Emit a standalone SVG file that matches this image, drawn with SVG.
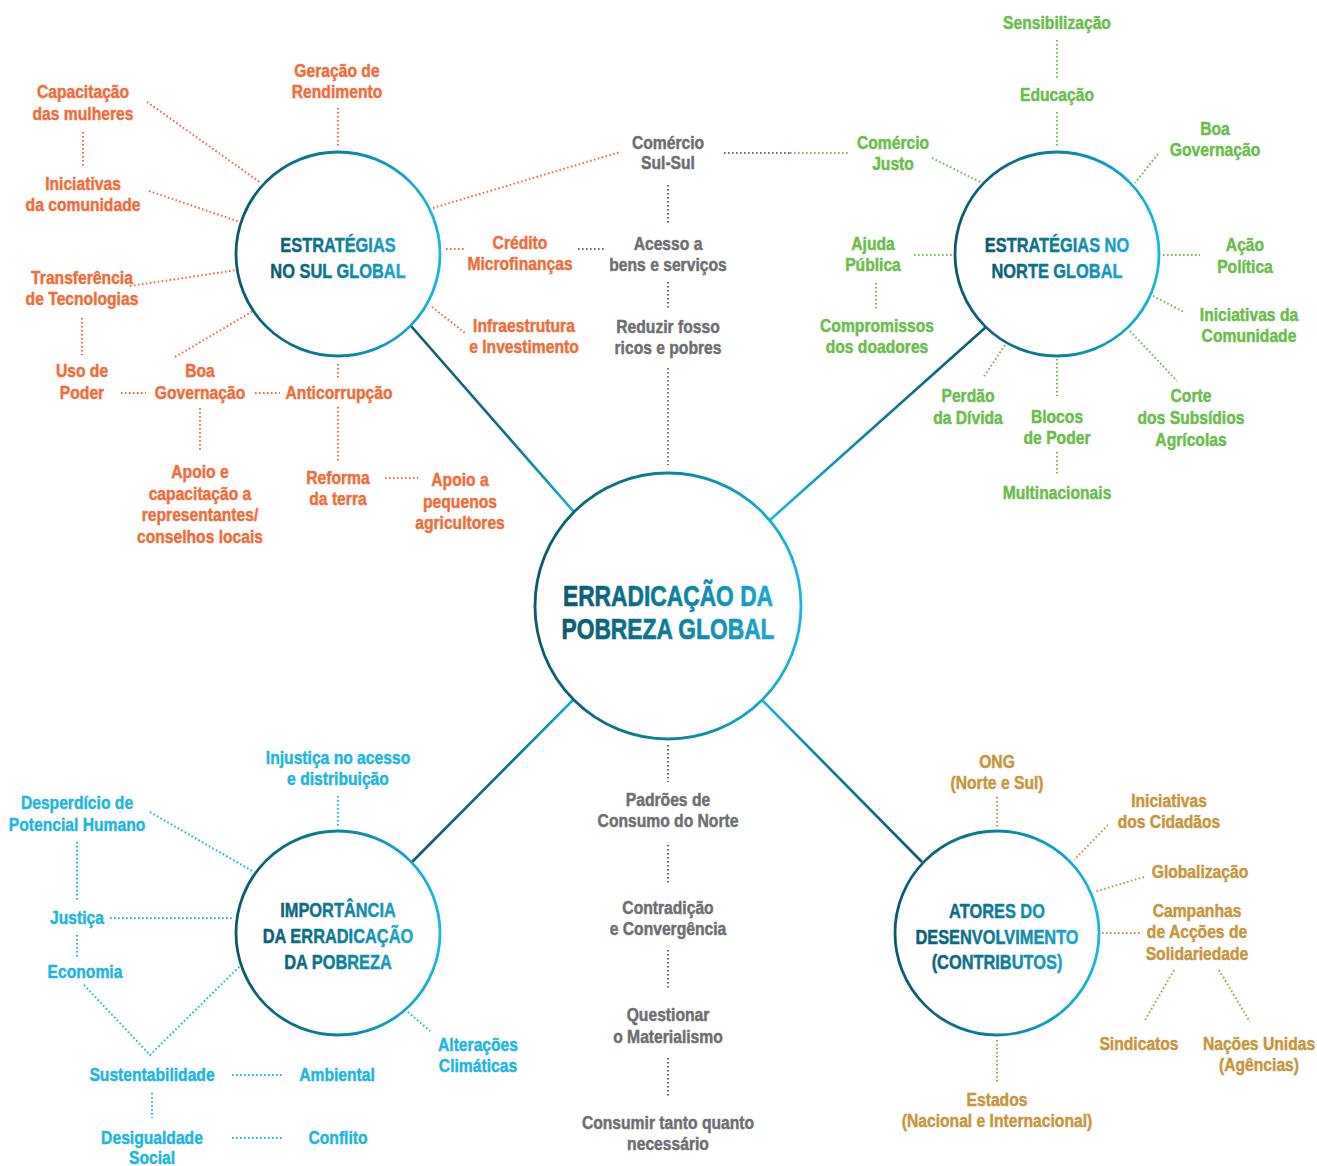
<svg xmlns="http://www.w3.org/2000/svg" width="1317" height="1166" viewBox="0 0 1317 1166">
<defs>
  <linearGradient id="ring" x1="0" y1="0" x2="1" y2="0">
    <stop offset="0" stop-color="#0a586c"/>
    <stop offset="0.55" stop-color="#0b86a3"/>
    <stop offset="1" stop-color="#19b7e0"/>
  </linearGradient>
  <linearGradient id="ink" x1="0" y1="0" x2="1" y2="0">
    <stop offset="0" stop-color="#0a5a6e"/>
    <stop offset="0.5" stop-color="#0b7d98"/>
    <stop offset="1" stop-color="#1aa9d2"/>
  </linearGradient>
  <linearGradient id="spokeNW" gradientUnits="userSpaceOnUse" x1="411" y1="326" x2="574" y2="512">
    <stop offset="0" stop-color="#0b5a6e"/>
    <stop offset="0.6" stop-color="#0c6f87"/>
    <stop offset="1" stop-color="#18b4dc"/>
  </linearGradient>
  <linearGradient id="spokeNE" gradientUnits="userSpaceOnUse" x1="986" y1="327" x2="770" y2="520">
    <stop offset="0" stop-color="#0b5a6e"/>
    <stop offset="0.5" stop-color="#0c7a94"/>
    <stop offset="1" stop-color="#19b6de"/>
  </linearGradient>
  <linearGradient id="spokeSW" gradientUnits="userSpaceOnUse" x1="412" y1="862" x2="573" y2="700">
    <stop offset="0" stop-color="#0b5a6e"/>
    <stop offset="0.6" stop-color="#0c7088"/>
    <stop offset="1" stop-color="#17addb"/>
  </linearGradient>
  <linearGradient id="spokeSE" gradientUnits="userSpaceOnUse" x1="922" y1="862" x2="762" y2="700">
    <stop offset="0" stop-color="#0b5a6e"/>
    <stop offset="0.6" stop-color="#0c7d97"/>
    <stop offset="1" stop-color="#18b4dc"/>
  </linearGradient>
  <style>
    text{font-family:"Liberation Sans",Arial,sans-serif;font-weight:700;text-anchor:middle;stroke-width:0.45;stroke-linejoin:round}
    .lab{font-size:18px}
    .ttl{font-size:20px;fill:url(#ink);stroke:url(#ink)}
    .big{font-size:30px;fill:url(#ink);stroke:url(#ink);stroke-width:0.7}
    .o{fill:#f26c3b;stroke:#f26c3b}
    .g{fill:#6abd4a;stroke:#6abd4a}
    .c{fill:#1db6e0;stroke:#1db6e0}
    .y{fill:#c6963a;stroke:#c6963a}
    .k{fill:#6d6e71;stroke:#6d6e71}
    .ring{fill:#fff;stroke:url(#ring);stroke-width:2.8}
    .dot{fill:none;stroke-width:2;stroke-dasharray:1.6 2.4}
    .so{stroke:#f26c3b}
    .sg{stroke:#6abd4a}
    .sc{stroke:#1db6e0}
    .sy{stroke:#c6963a}
    .sk{stroke:#6d6e71}
  </style>
</defs>
<rect width="1317" height="1166" fill="#fff"/>

<!-- connectors -->
<g id="connectors">
  <!-- solid spokes from the hub -->
  <line x1="411" y1="326" x2="574" y2="512" stroke="url(#spokeNW)" stroke-width="2.6"/>
  <line x1="986" y1="327" x2="770" y2="520" stroke="url(#spokeNE)" stroke-width="2.6"/>
  <line x1="412" y1="862" x2="573" y2="700" stroke="url(#spokeSW)" stroke-width="2.6"/>
  <line x1="922" y1="862" x2="762" y2="700" stroke="url(#spokeSE)" stroke-width="2.6"/>

  <!-- south strategies (orange) -->
  <g class="dot so">
    <line x1="338" y1="108" x2="338" y2="148"/>
    <line x1="83" y1="132" x2="83" y2="166"/>
    <line x1="147" y1="102" x2="261" y2="183"/>
    <line x1="149" y1="191" x2="240" y2="222"/>
    <line x1="130" y1="286" x2="237" y2="270"/>
    <line x1="82" y1="318" x2="82" y2="355"/>
    <line x1="121" y1="393" x2="146" y2="393"/>
    <line x1="255" y1="393" x2="280" y2="393"/>
    <line x1="175" y1="357" x2="253" y2="311"/>
    <line x1="338" y1="364" x2="338" y2="380"/>
    <line x1="338" y1="407" x2="338" y2="462"/>
    <line x1="385" y1="478" x2="418" y2="478"/>
    <line x1="200" y1="408" x2="200" y2="450"/>
    <line x1="446" y1="249" x2="466" y2="249"/>
    <line x1="432" y1="307" x2="465" y2="333"/>
    <line x1="433" y1="208" x2="620" y2="152"/>
  </g>

  <!-- central column (grey) -->
  <g class="dot sk">
    <line x1="578" y1="249" x2="605" y2="249"/>
    <line x1="724" y1="153" x2="790" y2="153"/>
    <line x1="668" y1="185" x2="668" y2="225"/>
    <line x1="668" y1="282" x2="668" y2="308"/>
    <line x1="668" y1="368" x2="668" y2="465"/>
    <line x1="668" y1="745" x2="668" y2="782"/>
    <line x1="668" y1="845" x2="668" y2="883"/>
    <line x1="668" y1="950" x2="668" y2="988"/>
    <line x1="668" y1="1058" x2="668" y2="1097"/>
  </g>

  <!-- north strategies (green) -->
  <g class="dot sg">
    <line x1="790" y1="153" x2="850" y2="153"/>
    <line x1="1057" y1="40" x2="1057" y2="78"/>
    <line x1="1057" y1="112" x2="1057" y2="148"/>
    <line x1="932" y1="158" x2="980" y2="182"/>
    <line x1="1158" y1="154" x2="1135" y2="183"/>
    <line x1="914" y1="255" x2="952" y2="255"/>
    <line x1="876" y1="283" x2="876" y2="311"/>
    <line x1="1163" y1="255" x2="1200" y2="255"/>
    <line x1="1153" y1="296" x2="1184" y2="312"/>
    <line x1="1005" y1="345" x2="983" y2="378"/>
    <line x1="1057" y1="359" x2="1057" y2="396"/>
    <line x1="1057" y1="452" x2="1057" y2="476"/>
    <line x1="1130" y1="331" x2="1177" y2="381"/>
  </g>

  <!-- importance (cyan) -->
  <g class="dot sc">
    <line x1="338" y1="796" x2="338" y2="828"/>
    <line x1="150" y1="812" x2="254" y2="872"/>
    <line x1="77" y1="842" x2="77" y2="902"/>
    <line x1="110" y1="918" x2="233" y2="918"/>
    <line x1="77" y1="935" x2="77" y2="958"/>
    <polyline points="84,985 150,1055 240,966"/>
    <line x1="232" y1="1075" x2="282" y2="1075"/>
    <line x1="152" y1="1093" x2="152" y2="1118"/>
    <line x1="232" y1="1138" x2="282" y2="1138"/>
    <line x1="408" y1="1012" x2="430" y2="1031"/>
  </g>

  <!-- actors (gold) -->
  <g class="dot sy">
    <line x1="997" y1="797" x2="997" y2="828"/>
    <line x1="1108" y1="825" x2="1074" y2="860"/>
    <line x1="1144" y1="877" x2="1094" y2="892"/>
    <line x1="1102" y1="933" x2="1142" y2="933"/>
    <line x1="1174" y1="970" x2="1144" y2="1022"/>
    <line x1="1219" y1="970" x2="1250" y2="1022"/>
    <line x1="997" y1="1040" x2="997" y2="1084"/>
  </g>
</g>

<!-- hub -->
<g id="hub">
  <circle class="ring" cx="668" cy="606" r="133"/>
  <text class="big" transform="translate(668 0) scale(.76 1)"><tspan x="0" y="606">ERRADICAÇÃO DA</tspan><tspan x="0" y="639">POBREZA GLOBAL</tspan></text>
</g>

<g id="sul">
  <circle class="ring" cx="338" cy="254" r="102"/>
  <text class="ttl" transform="translate(338 0) scale(.82 1)"><tspan x="0" y="252">ESTRATÉGIAS</tspan><tspan x="0" y="278">NO SUL GLOBAL</tspan></text>
</g>

<g id="norte">
  <circle class="ring" cx="1057" cy="254" r="102"/>
  <text class="ttl" transform="translate(1057 0) scale(.82 1)"><tspan x="0" y="252">ESTRATÉGIAS NO</tspan><tspan x="0" y="278">NORTE GLOBAL</tspan></text>
</g>

<g id="importancia">
  <circle class="ring" cx="338" cy="933" r="102"/>
  <text class="ttl" transform="translate(338 0) scale(.82 1)"><tspan x="0" y="917">IMPORTÂNCIA</tspan><tspan x="0" y="943">DA ERRADICAÇÃO</tspan><tspan x="0" y="969">DA POBREZA</tspan></text>
</g>

<g id="atores">
  <circle class="ring" cx="997" cy="933" r="102"/>
  <text class="ttl" transform="translate(997 0) scale(.82 1)"><tspan x="0" y="918">ATORES DO</tspan><tspan x="0" y="944">DESENVOLVIMENTO</tspan><tspan x="0" y="969">(CONTRIBUTOS)</tspan></text>
</g>

<!-- south strategy labels -->
<g id="sul-labels" class="lab o">
  <text id="geracao" transform="translate(337 0) scale(.87 1)"><tspan x="0" y="77">Geração de</tspan><tspan x="0" y="98">Rendimento</tspan></text>
  <text id="capacitacao" transform="translate(83 0) scale(.87 1)"><tspan x="0" y="98">Capacitação</tspan><tspan x="0" y="120">das mulheres</tspan></text>
  <text id="iniciativas-sul" transform="translate(83 0) scale(.87 1)"><tspan x="0" y="190">Iniciativas</tspan><tspan x="0" y="211">da comunidade</tspan></text>
  <text id="transferencia" transform="translate(82 0) scale(.87 1)"><tspan x="0" y="284">Transferência</tspan><tspan x="0" y="305">de Tecnologias</tspan></text>
  <text id="uso-poder" transform="translate(82 0) scale(.87 1)"><tspan x="0" y="377">Uso de</tspan><tspan x="0" y="399">Poder</tspan></text>
  <text id="boa-gov-sul" transform="translate(200 0) scale(.87 1)"><tspan x="0" y="377">Boa</tspan><tspan x="0" y="399">Governação</tspan></text>
  <text id="anticorrupcao" transform="translate(339 0) scale(.87 1)" x="0" y="399">Anticorrupção</text>
  <text id="reforma" transform="translate(338 0) scale(.87 1)"><tspan x="0" y="484">Reforma</tspan><tspan x="0" y="505">da terra</tspan></text>
  <text id="apoio-agric" transform="translate(460 0) scale(.87 1)"><tspan x="0" y="486">Apoio a</tspan><tspan x="0" y="508">pequenos</tspan><tspan x="0" y="529">agricultores</tspan></text>
  <text id="apoio-repr" transform="translate(200 0) scale(.87 1)"><tspan x="0" y="478">Apoio e</tspan><tspan x="0" y="500">capacitação a</tspan><tspan x="0" y="521">representantes/</tspan><tspan x="0" y="543">conselhos locais</tspan></text>
  <text id="credito" transform="translate(520 0) scale(.87 1)"><tspan x="0" y="249">Crédito</tspan><tspan x="0" y="270">Microfinanças</tspan></text>
  <text id="infra" transform="translate(524 0) scale(.87 1)"><tspan x="0" y="332">Infraestrutura</tspan><tspan x="0" y="353">e Investimento</tspan></text>
</g>

<!-- central column labels -->
<g id="centro-labels" class="lab k">
  <text id="comercio-ss" transform="translate(668 0) scale(.87 1)"><tspan x="0" y="149">Comércio</tspan><tspan x="0" y="169">Sul-Sul</tspan></text>
  <text id="acesso" transform="translate(668 0) scale(.87 1)"><tspan x="0" y="250">Acesso a</tspan><tspan x="0" y="271">bens e serviços</tspan></text>
  <text id="reduzir" transform="translate(668 0) scale(.87 1)"><tspan x="0" y="333">Reduzir fosso</tspan><tspan x="0" y="354">ricos e pobres</tspan></text>
  <text id="padroes" transform="translate(668 0) scale(.87 1)"><tspan x="0" y="806">Padrões de</tspan><tspan x="0" y="827">Consumo do Norte</tspan></text>
  <text id="contradicao" transform="translate(668 0) scale(.87 1)"><tspan x="0" y="914">Contradição</tspan><tspan x="0" y="935">e Convergência</tspan></text>
  <text id="questionar" transform="translate(668 0) scale(.87 1)"><tspan x="0" y="1021">Questionar</tspan><tspan x="0" y="1043">o Materialismo</tspan></text>
  <text id="consumir" transform="translate(668 0) scale(.87 1)"><tspan x="0" y="1129">Consumir tanto quanto</tspan><tspan x="0" y="1150">necessário</tspan></text>
</g>

<!-- north strategy labels -->
<g id="norte-labels" class="lab g">
  <text id="sensibilizacao" transform="translate(1057 0) scale(.87 1)" x="0" y="29">Sensibilização</text>
  <text id="educacao" transform="translate(1057 0) scale(.87 1)" x="0" y="101">Educação</text>
  <text id="comercio-justo" transform="translate(893 0) scale(.87 1)"><tspan x="0" y="149">Comércio</tspan><tspan x="0" y="170">Justo</tspan></text>
  <text id="boa-gov-norte" transform="translate(1215 0) scale(.87 1)"><tspan x="0" y="135">Boa</tspan><tspan x="0" y="156">Governação</tspan></text>
  <text id="ajuda" transform="translate(873 0) scale(.87 1)"><tspan x="0" y="250">Ajuda</tspan><tspan x="0" y="271">Pública</tspan></text>
  <text id="compromissos" transform="translate(877 0) scale(.87 1)"><tspan x="0" y="332">Compromissos</tspan><tspan x="0" y="353">dos doadores</tspan></text>
  <text id="acao" transform="translate(1245 0) scale(.87 1)"><tspan x="0" y="251">Ação</tspan><tspan x="0" y="273">Política</tspan></text>
  <text id="iniciativas-norte" transform="translate(1249 0) scale(.87 1)"><tspan x="0" y="321">Iniciativas da</tspan><tspan x="0" y="342">Comunidade</tspan></text>
  <text id="perdao" transform="translate(968 0) scale(.87 1)"><tspan x="0" y="402">Perdão</tspan><tspan x="0" y="424">da Dívida</tspan></text>
  <text id="blocos" transform="translate(1057 0) scale(.87 1)"><tspan x="0" y="423">Blocos</tspan><tspan x="0" y="444">de Poder</tspan></text>
  <text id="multinacionais" transform="translate(1057 0) scale(.87 1)" x="0" y="499">Multinacionais</text>
  <text id="corte" transform="translate(1191 0) scale(.87 1)"><tspan x="0" y="402">Corte</tspan><tspan x="0" y="424">dos Subsídios</tspan><tspan x="0" y="446">Agrícolas</tspan></text>
</g>

<!-- importance labels -->
<g id="importancia-labels" class="lab c">
  <text id="injustica" transform="translate(338 0) scale(.87 1)"><tspan x="0" y="764">Injustiça no acesso</tspan><tspan x="0" y="785">e distribuição</tspan></text>
  <text id="desperdicio" transform="translate(77 0) scale(.87 1)"><tspan x="0" y="809">Desperdício de</tspan><tspan x="0" y="831">Potencial Humano</tspan></text>
  <text id="justica" transform="translate(77 0) scale(.87 1)" x="0" y="924">Justiça</text>
  <text id="economia" transform="translate(85 0) scale(.87 1)" x="0" y="978">Economia</text>
  <text id="sustentabilidade" transform="translate(152 0) scale(.87 1)" x="0" y="1081">Sustentabilidade</text>
  <text id="ambiental" transform="translate(337 0) scale(.87 1)" x="0" y="1081">Ambiental</text>
  <text id="desigualdade" transform="translate(152 0) scale(.87 1)"><tspan x="0" y="1144">Desigualdade</tspan><tspan x="0" y="1164">Social</tspan></text>
  <text id="conflito" transform="translate(338 0) scale(.87 1)" x="0" y="1144">Conflito</text>
  <text id="alteracoes" transform="translate(478 0) scale(.87 1)"><tspan x="0" y="1051">Alterações</tspan><tspan x="0" y="1072">Climáticas</tspan></text>
</g>

<!-- actor labels -->
<g id="atores-labels" class="lab y">
  <text id="ong" transform="translate(997 0) scale(.87 1)"><tspan x="0" y="768">ONG</tspan><tspan x="0" y="789">(Norte e Sul)</tspan></text>
  <text id="cidadaos" transform="translate(1169 0) scale(.87 1)"><tspan x="0" y="807">Iniciativas</tspan><tspan x="0" y="828">dos Cidadãos</tspan></text>
  <text id="globalizacao" transform="translate(1200 0) scale(.87 1)" x="0" y="878">Globalização</text>
  <text id="campanhas" transform="translate(1197 0) scale(.87 1)"><tspan x="0" y="917">Campanhas</tspan><tspan x="0" y="938">de Acções de</tspan><tspan x="0" y="960">Solidariedade</tspan></text>
  <text id="sindicatos" transform="translate(1139 0) scale(.87 1)" x="0" y="1050">Sindicatos</text>
  <text id="nacoes" transform="translate(1259 0) scale(.87 1)"><tspan x="0" y="1050">Nações Unidas</tspan><tspan x="0" y="1071">(Agências)</tspan></text>
  <text id="estados" transform="translate(997 0) scale(.87 1)"><tspan x="0" y="1106">Estados</tspan><tspan x="0" y="1127">(Nacional e Internacional)</tspan></text>
</g>
</svg>
